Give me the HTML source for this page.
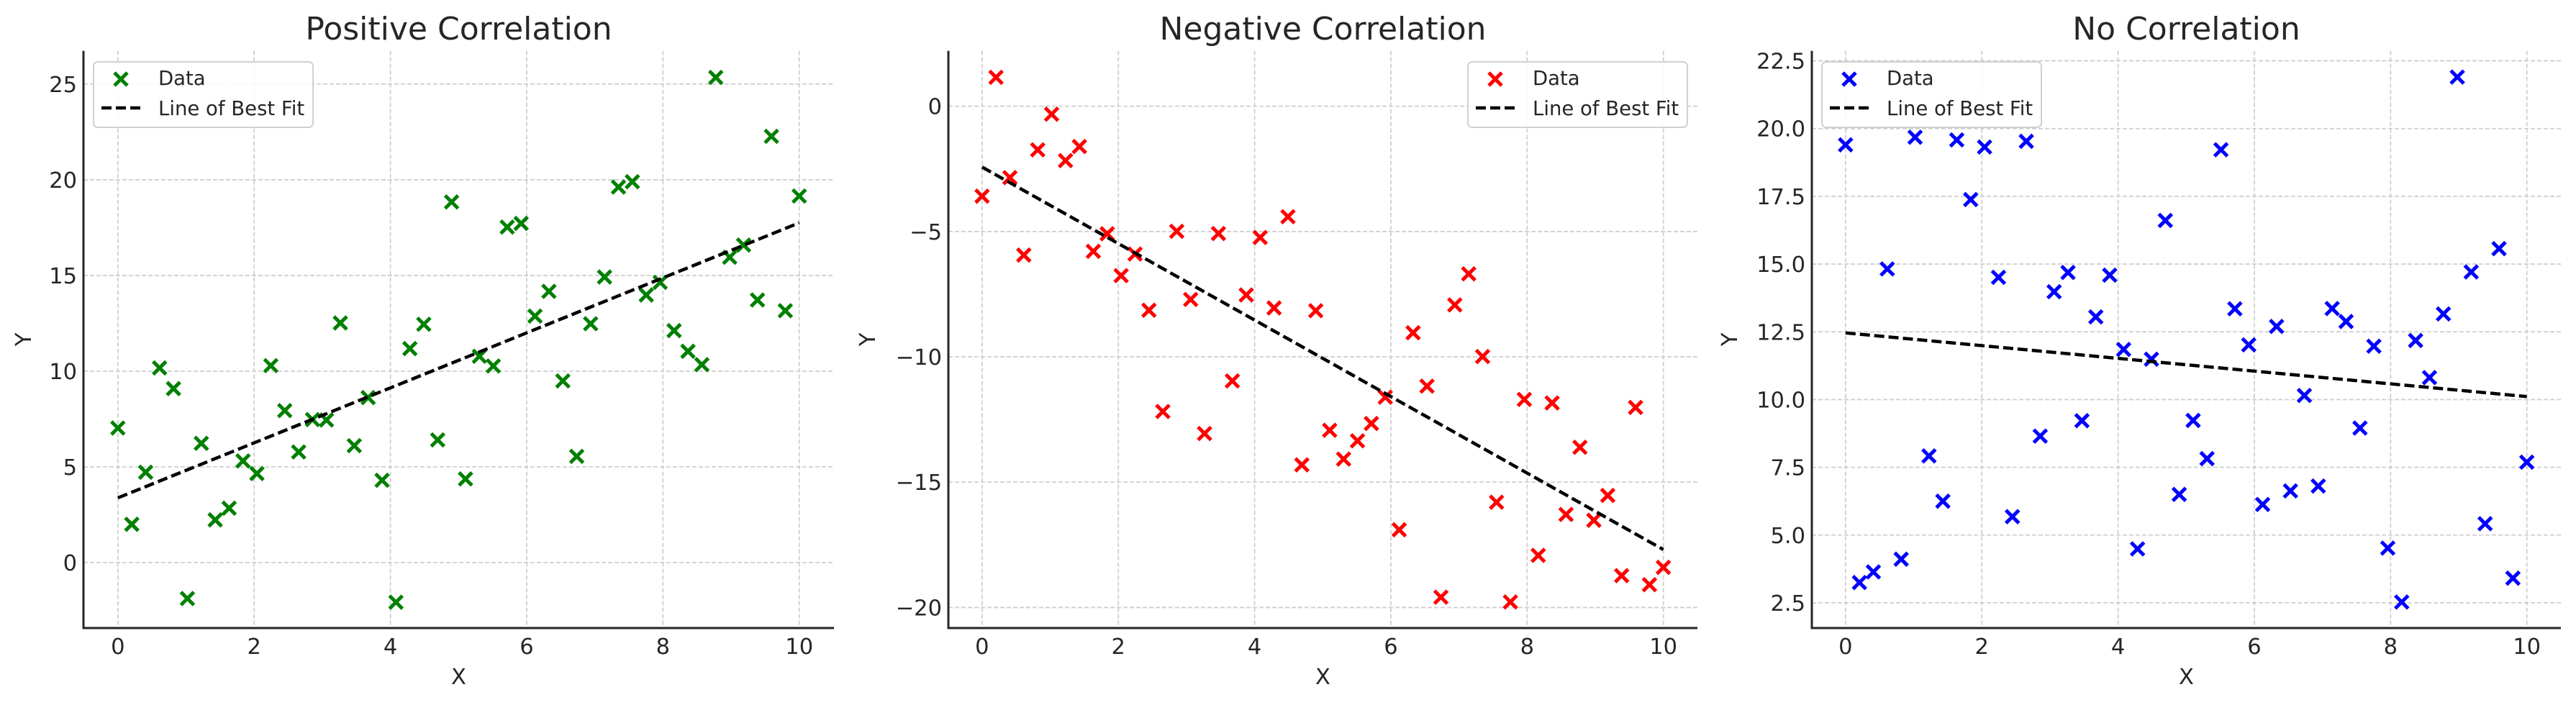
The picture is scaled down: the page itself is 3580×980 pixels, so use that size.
<!DOCTYPE html>
<html><head><meta charset="utf-8"><style>
html,body{margin:0;padding:0;background:#fff;}
svg{display:block;font-family:"DejaVu Sans","Liberation Sans",sans-serif;}
</style></head><body>
<svg id="fig" width="3580" height="980" viewBox="0 0 3580 980" xmlns="http://www.w3.org/2000/svg"></svg>
<script>
const xValues = Array.from({length:50},(_,i)=>i*10/49);
const posY = [7.03,2.0,4.72,10.17,9.09,-1.88,6.23,2.23,2.84,5.31,4.65,10.29,7.94,5.78,7.47,7.45,12.52,6.11,8.62,4.30,-2.07,11.18,12.45,6.41,18.84,4.37,10.78,10.27,17.53,17.72,12.88,14.17,9.49,5.55,12.48,14.92,19.62,19.90,13.98,14.64,12.12,11.04,10.34,25.35,15.95,16.59,13.72,22.27,13.16,19.15];
const negY = [-3.59,1.15,-2.85,-5.94,-1.74,-0.32,-2.17,-1.61,-5.79,-5.09,-6.76,-5.90,-8.14,-12.18,-4.99,-7.71,-13.06,-5.08,-10.96,-7.53,-5.24,-8.05,-4.41,-14.31,-8.16,-12.93,-14.08,-13.35,-12.66,-11.61,-16.90,-9.04,-11.17,-19.59,-7.93,-6.69,-9.99,-15.80,-19.78,-11.70,-17.92,-11.84,-16.29,-13.61,-16.52,-15.53,-18.73,-12.02,-19.09,-18.40];
const noneY = [19.40,3.25,3.64,14.82,4.11,19.68,7.92,6.25,19.58,17.38,19.32,14.51,5.68,19.53,8.65,13.98,14.69,9.22,13.05,14.59,11.85,4.49,11.49,16.61,6.50,9.23,7.82,19.22,13.35,12.02,6.13,12.70,6.63,10.15,6.81,13.36,12.88,8.95,11.97,4.52,2.53,12.18,10.81,13.16,21.90,14.71,5.42,15.57,3.41,7.69];
const posFit = [3.38,17.75];
const negFit = [-2.43,-17.69];
const noneFit = [12.46,10.11];
const xTicks = [0,2,4,6,8,10];
const posYTicks = [0,5,10,15,20,25];
const negYTicks = [-20,-15,-10,-5,0];
const noneYTicks = [2.5,5,7.5,10,12.5,15,17.5,20,22.5];
const titles = ["Positive Correlation","Negative Correlation","No Correlation"];

const panels = [
 {name:"positive",title:titles[0],y:posY,fit:posFit,yt:posYTicks,color:"#008000",left:116,right:1159,xmin:-0.505,xmax:10.51,ymin:-3.42,ymax:26.74,fmt:v=>String(v),legX:130,yl:32},
 {name:"negative",title:titles[1],y:negY,fit:negFit,yt:negYTicks,color:"#ff0000",left:1318,right:2359,xmin:-0.495,xmax:10.5,ymin:-20.82,ymax:2.21,fmt:v=>String(v).replace('-','\u2212'),legX:2040,yl:1205},
 {name:"none",title:titles[2],y:noneY,fit:noneFit,yt:noneYTicks,color:"#0000ff",left:2518,right:3559,xmin:-0.495,xmax:10.5,ymin:1.57,ymax:22.87,fmt:v=>v.toFixed(1),legX:2532,yl:2403}
];
const TOP=70.6,BOT=873;
const NS="http://www.w3.org/2000/svg";
const svg=document.getElementById('fig');
function mk(tag,attrs,parent){const e=document.createElementNS(NS,tag);for(const k in attrs)e.setAttribute(k,attrs[k]);parent.appendChild(e);return e;}
function cross(g,cx,cy,color,s){
 const c=mk('path',{d:`M${cx-s},${cy-s}L${cx+s},${cy+s}M${cx-s},${cy+s}L${cx+s},${cy-s}`,stroke:color,'stroke-width':5,fill:'none'},g);
 return c;
}
panels.forEach(p=>{
 const sx=v=>p.left+(v-p.xmin)/(p.xmax-p.xmin)*(p.right-p.left);
 const sy=v=>BOT-(v-p.ymin)/(p.ymax-p.ymin)*(BOT-TOP);
 const g=mk('g',{},svg);
 
 
 const cx=(p.left+p.right)/2;
 const t=mk('text',{x:cx,y:55,'text-anchor':'middle','font-size':44,fill:'#262626'},g);
 t.textContent=p.title;
 
 
 const grid=mk('g',{stroke:'#cfcfcf','stroke-width':1.8,'stroke-dasharray':'6,3'},g);
 
 
 xTicks.forEach(v=>{mk('line',{x1:sx(v),x2:sx(v),y1:TOP,y2:BOT},grid);});
 p.yt.forEach(v=>{mk('line',{x1:p.left,x2:p.right,y1:sy(v),y2:sy(v)},grid);});
 const xl=mk('g',{'font-size':30.5,fill:'#262626','text-anchor':'middle'},g);
 
 
 xTicks.forEach(v=>{const e=mk('text',{x:sx(v),y:909},xl);e.textContent=String(v);});
 const yl=mk('g',{'font-size':30.5,fill:'#262626','text-anchor':'end'},g);
 
 
 p.yt.forEach(v=>{const e=mk('text',{x:p.left-9,y:sy(v)+11},yl);e.textContent=p.fmt(v);});
 const xa=mk('text',{x:cx,y:951,'text-anchor':'middle','font-size':30.5,fill:'#262626'},g);
 xa.textContent='X';
 
 
 const ya=mk('text',{x:p.yl,y:(TOP+BOT)/2,'text-anchor':'middle','font-size':30.5,fill:'#262626',transform:`rotate(-90 ${p.yl} ${(TOP+BOT)/2})`,dy:11},g);
 ya.textContent='Y';
 
 
 const sp=mk('path',{d:`M${p.left},${TOP}L${p.left},${BOT}L${p.right},${BOT}`,stroke:'#262626','stroke-width':3,fill:'none'},g);
 
 
 const pts=mk('g',{},g);
 
 
 p.y.forEach((v,i)=>{
  const c=cross(pts,sx(xValues[i]),sy(v),p.color,9);
  
  
 });
 const fl=mk('line',{x1:sx(0),y1:sy(p.fit[0]),x2:sx(10),y2:sy(p.fit[1]),stroke:'#000','stroke-width':4.5,'stroke-dasharray':'14,6'},g);
 
 
 const lg=mk('g',{},g);
 
 
 mk('rect',{x:p.legX,y:86,width:305,height:91,rx:6,fill:'#fff','fill-opacity':0.85,stroke:'#d0d0d0','stroke-width':2},lg);
 const lm=cross(lg,p.legX+38,110,p.color,9);
 
 
 const t1=mk('text',{x:p.legX+90,y:118,'font-size':27.5,fill:'#262626'},lg);
 t1.textContent='Data';
 
 
 const ll=mk('line',{x1:p.legX+11,x2:p.legX+67,y1:150,y2:150,stroke:'#000','stroke-width':4.5,'stroke-dasharray':'14,6'},lg);
 
 
 const t2=mk('text',{x:p.legX+90,y:160,'font-size':27.5,fill:'#262626'},lg);
 t2.textContent='Line of Best Fit';
 
 
});
</script>
</body></html>
